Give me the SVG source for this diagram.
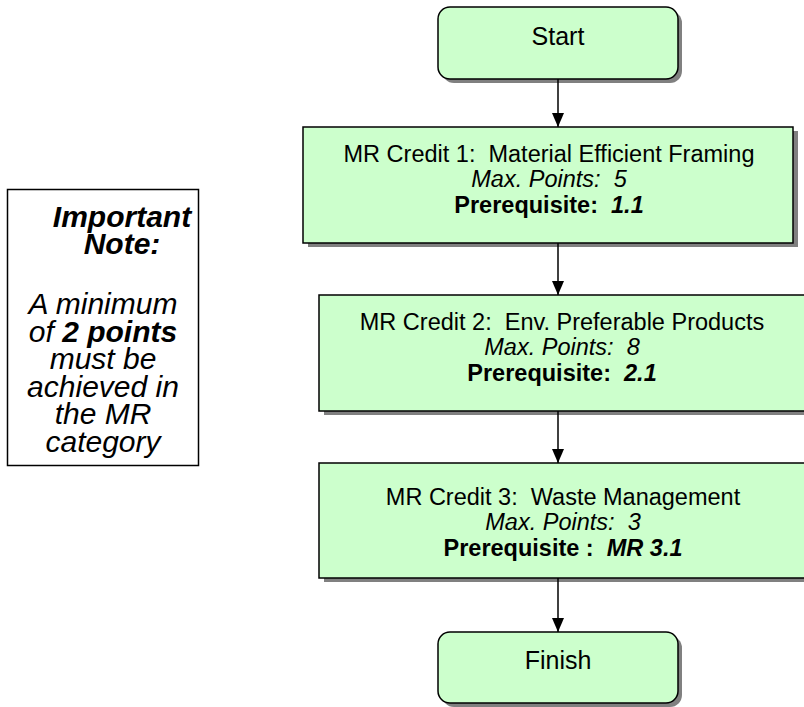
<svg xmlns="http://www.w3.org/2000/svg" width="804" height="707" viewBox="0 0 804 707">
<style>
text{font-family:"Liberation Sans",Arial,sans-serif;fill:#000;text-anchor:middle;white-space:pre}
.box{fill:#CCFFCC;stroke:#000;stroke-width:1.5}
.shadow{fill:#808080}
.t{font-size:23.5px}
.se{font-size:25px}
.note{font-size:30px;font-style:italic}
.conn{stroke:#000;stroke-width:1.5;fill:none}
</style>
<defs>
<marker id="arr" markerWidth="14" markerHeight="12" refX="14" refY="6" orient="auto" markerUnits="userSpaceOnUse">
<path d="M0,0 L14,6 L0,12 Z" fill="#000"/>
</marker>
</defs>
<g id="note">
<rect x="7.5" y="189.5" width="191" height="276" fill="#fff" stroke="#000" stroke-width="1.5"/>
<text class="note" x="122" y="227" font-weight="bold">Important</text>
<text class="note" x="122" y="254" font-weight="bold">Note:</text>
<text class="note" x="103" y="314">A minimum</text>
<text class="note" x="103" y="342">of <tspan font-weight="bold">2 points</tspan></text>
<text class="note" x="103" y="369">must be</text>
<text class="note" x="103" y="397">achieved in</text>
<text class="note" x="103" y="424">the MR</text>
<text class="note" x="103" y="452">category</text>
</g>
<g id="start">
<rect class="shadow" x="442" y="11" width="240" height="72" rx="12"/>
<rect class="box" x="438" y="7" width="240" height="72" rx="12"/>
<text class="se" x="558" y="45">Start</text>
</g>
<g id="credit1">
<rect class="shadow" x="308" y="131" width="490" height="116"/>
<rect class="box" x="303" y="127" width="490" height="116"/>
<text class="t" x="549" y="162" xml:space="preserve">MR Credit 1:  Material Efficient Framing</text>
<text class="t" x="549" y="187" font-style="italic" xml:space="preserve">Max. Points:  5</text>
<text class="t" x="549" y="213" font-weight="bold" xml:space="preserve">Prerequisite:  <tspan font-style="italic">1.1</tspan></text>
</g>
<g id="credit2">
<rect class="shadow" x="324" y="299" width="486" height="116"/>
<rect class="box" x="319" y="295" width="486" height="116"/>
<text class="t" x="562" y="330" xml:space="preserve">MR Credit 2:  Env. Preferable Products</text>
<text class="t" x="562" y="355" font-style="italic" xml:space="preserve">Max. Points:  8</text>
<text class="t" x="562" y="381" font-weight="bold" xml:space="preserve">Prerequisite:  <tspan font-style="italic">2.1</tspan></text>
</g>
<g id="credit3">
<rect class="shadow" x="324" y="467" width="486" height="115"/>
<rect class="box" x="319" y="463" width="486" height="115"/>
<text class="t" x="563" y="505" xml:space="preserve">MR Credit 3:  Waste Management</text>
<text class="t" x="563" y="530" font-style="italic" xml:space="preserve">Max. Points:  3</text>
<text class="t" x="563" y="556" font-weight="bold" xml:space="preserve">Prerequisite :  <tspan font-style="italic">MR 3.1</tspan></text>
</g>
<g id="finish">
<rect class="shadow" x="442" y="636" width="240" height="71" rx="12"/>
<rect class="box" x="438" y="632" width="240" height="71" rx="12"/>
<text class="se" x="558" y="669">Finish</text>
</g>
<g id="connectors">
<path class="conn" d="M558,79 V127" marker-end="url(#arr)"/>
<path class="conn" d="M558,243 V295" marker-end="url(#arr)"/>
<path class="conn" d="M558,411 V463" marker-end="url(#arr)"/>
<path class="conn" d="M558,578 V632" marker-end="url(#arr)"/>
</g>
</svg>
